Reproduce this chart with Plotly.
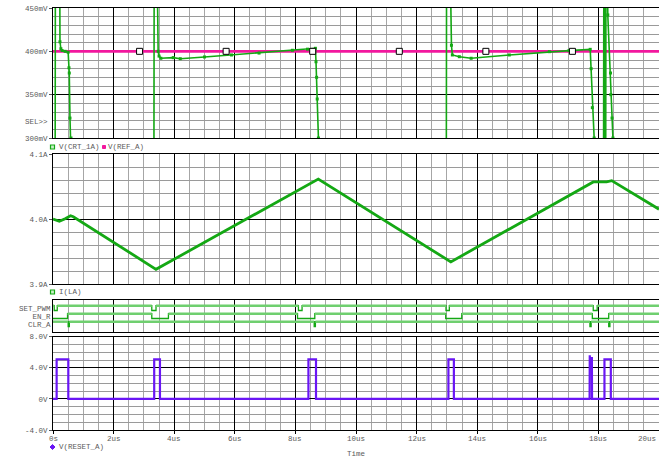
import plotly.graph_objects as go

# ---------------- data ----------------
# V(CRT_1A) [mV]  (values beyond the window are clipped)
crt_t = [0.00, 0.07, 0.08, 0.22, 0.23, 0.26, 0.30, 0.40, 0.50, 0.527, 0.537, 0.56, 0.593, 0.62,
         3.33, 3.34, 3.43, 3.47, 3.50, 3.56, 3.97, 4.20, 5.00, 5.89, 6.80, 7.90, 8.40, 8.66,
         8.68, 8.70, 8.72, 8.76, 8.80,
         12.98, 12.99, 13.10, 13.15, 13.18, 13.41, 13.80, 15.06, 16.38, 17.03, 17.73,
         17.76, 17.80, 17.86, 17.90,
         18.17, 18.18, 18.20, 18.21, 18.24, 18.25, 18.29, 18.31, 18.40, 18.41, 18.45, 18.48, 18.52, 20.0]
crt_v = [250, 250, 520, 520, 411, 403, 401, 400, 399, 381, 375, 323, 300, 250,
         250, 520, 520, 400, 394.5, 392, 392.7, 391.5, 393.5, 395.8, 398, 401.2, 402.5, 403.5,
         388, 370, 345, 300, 250,
         250, 520, 520, 407, 395.8, 393.8, 392, 395.8, 399.6, 400.8, 402.3,
         380, 335, 300, 250,
         250, 520, 520, 250, 250, 520, 520, 442, 375, 350, 323, 300, 250, 250]

# V(REF_A) [mV]
ref_t = [0.0, 20.0]
ref_v = [400, 400]
ref_mark_t = [2.857, 5.714, 8.571, 11.429, 14.286, 17.143]
ref_mark_v = [400, 400, 400, 400, 400, 400]

# I(LA) [A]
il_t = [0.00, 0.12, 0.21, 0.40, 0.58, 0.67, 3.40, 8.755, 13.13, 17.83, 18.27, 18.44, 20.0]
il_v = [4.000, 3.998, 3.9965, 4.0005, 4.005, 4.0035, 3.9226, 4.0615, 3.934, 4.057, 4.057, 4.059, 4.015]

# digital signals: intervals (start, end) in us where the signal is low
dig_names = ["SET_PWM", "EN_R", "CLR_A"]
set_pwm_low = [(0.04, 0.14), (3.26, 3.40), (8.10, 8.22), (12.97, 13.08), (17.83, 17.96)]
en_r_low = [(0.00, 0.48), (3.26, 3.81), (8.07, 8.64), (12.96, 13.49), (17.80, 18.34)]
clr_a_low = [(0.50, 0.54), (8.62, 8.66), (17.72, 17.76), (18.34, 18.38)]

# V(RESET_A) [V]
reset_t = [0.0, 0.12, 0.12, 0.505, 0.505, 3.34, 3.34, 3.53, 3.53, 8.43, 8.43, 8.68, 8.68,
           13.05, 13.05, 13.23, 13.23, 17.71, 17.715, 17.73, 17.75, 17.77, 17.785, 17.79,
           18.20, 18.20, 18.41, 18.41, 20.0]
reset_v = [0, 0, 5.1, 5.1, 0, 0, 5.1, 5.1, 0, 0, 5.1, 5.1, 0,
           0, 5.1, 5.1, 0, 0, 5.6, 4.6, 5.3, 4.8, 5.4, 0,
           0, 5.1, 5.1, 0, 0]

x_ticks = [0, 2, 4, 6, 8, 10, 12, 14, 16, 18, 20]
x_tick_text = ["0s", "2us", "4us", "6us", "8us", "10us", "12us", "14us", "16us", "18us", "20us"]

# ---------------- styling / layout helpers ----------------
W, H = 659, 459
L, T, B = 53, 8, 29
PW, PH = W - L, H - T - B
GREEN = "#14a814"
LGREEN = "#6fcf6f"
MAGENTA = "#f2189e"
PURPLE = "#6a16f5"
TXT = "#5a5a5a"
FONT = "Liberation Mono"


def xp(px):
    return (px - L) / PW


def yp(py):
    return (H - B - py) / PH


fig = go.Figure()

# panel 1
fig.add_trace(go.Scatter(x=ref_t, y=ref_v, mode="lines", line=dict(color=MAGENTA, width=2.6),
                         xaxis="x", yaxis="y", showlegend=False))
fig.add_trace(go.Scatter(x=crt_t, y=crt_v, mode="lines+markers", line=dict(color=GREEN, width=1.6),
                         marker=dict(symbol="square", size=3, color=GREEN),
                         xaxis="x", yaxis="y", showlegend=False))
fig.add_trace(go.Scatter(x=ref_mark_t, y=ref_mark_v, mode="markers",
                         marker=dict(symbol="square", size=6, color="white", line=dict(color="black", width=1)),
                         xaxis="x", yaxis="y", showlegend=False))

# panel 2
fig.add_trace(go.Scatter(x=il_t, y=il_v, mode="lines", line=dict(color=GREEN, width=2.8),
                         xaxis="x2", yaxis="y2", showlegend=False))

# panel 3 (digital)
lows_all = [set_pwm_low, en_r_low, clr_a_low]
row_hi = [3.29, 2.29, 1.29]
drop = 0.6
for lows, hi in zip(lows_all, row_hi):
    lo = hi - drop
    xs, ys = [0.0], [hi if lows[0][0] > 0 else lo]
    hx, hy = [], []
    prev = 0.0
    for a, b in lows:
        if a > prev:
            hx += [prev, a, None]
            hy += [hi, hi, None]
        if a > 0:
            xs += [a, a]
            ys += [hi, lo]
        xs += [b, b]
        ys += [lo, hi]
        prev = b
    xs.append(20.0)
    ys.append(hi)
    hx += [prev, 20.0]
    hy += [hi, hi]
    fig.add_trace(go.Scatter(x=xs, y=ys, mode="lines", line=dict(color=GREEN, width=1.3),
                             xaxis="x3", yaxis="y3", showlegend=False))
    fig.add_trace(go.Scatter(x=hx, y=hy, mode="lines", line=dict(color=LGREEN, width=2.4),
                             xaxis="x3", yaxis="y3", showlegend=False))

# panel 4
fig.add_trace(go.Scatter(x=reset_t, y=reset_v, mode="lines", line=dict(color=PURPLE, width=2.2),
                         xaxis="x4", yaxis="y4", showlegend=False))

tickfont = dict(family=FONT, size=7.5, color=TXT)
xcommon = dict(range=[0, 20], tickvals=x_ticks, showticklabels=False, showgrid=True,
               gridcolor="#000000", gridwidth=1, zeroline=False, showline=True, mirror=True,
               linecolor="#000000", linewidth=1,
               minor=dict(dtick=0.5, tick0=0, showgrid=True, gridcolor="#a6a6a6", gridwidth=1))
ycommon = dict(showgrid=True, gridcolor="#000000", gridwidth=1, zeroline=False, showline=True,
               mirror=True, linecolor="#000000", linewidth=1, ticks="outside", ticklen=3,
               tickcolor="#555", tickfont=tickfont)

fig.update_layout(
    width=W, height=H, margin=dict(l=L, r=0, t=T, b=B),
    paper_bgcolor="white", plot_bgcolor="white",
    xaxis=dict(**xcommon, anchor="y"),
    xaxis2=dict(**xcommon, anchor="y2", matches="x"),
    xaxis3=dict(**xcommon, anchor="y3", matches="x"),
    xaxis4=dict(**xcommon, anchor="y4", matches="x", ticks="outside", ticklen=3, tickcolor="#000"),
    yaxis=dict(**ycommon, domain=[yp(138), yp(T)], range=[300, 450],
               tickvals=[300, 350, 400, 450], ticktext=["300mV", "350mV", "400mV", "450mV"],
               minor=dict(tickvals=[v for v in range(310, 450, 10) if v % 50],
                          showgrid=True, gridcolor="#9a9a9a", gridwidth=1)),
    yaxis2=dict(**ycommon, domain=[yp(284), yp(154)], range=[3.9, 4.1],
                tickvals=[3.9, 4.0, 4.1], ticktext=["3.9A", "4.0A", "4.1A"],
                minor=dict(tickvals=[3.92, 3.94, 3.96, 3.98, 4.02, 4.04, 4.06, 4.08],
                           showgrid=True, gridcolor="#9a9a9a", gridwidth=1)),
    yaxis3=dict(domain=[yp(332), yp(300)], range=[0, 4], showgrid=False, zeroline=False,
                showline=True, mirror=True, linecolor="#000", linewidth=1, ticks="",
                tickvals=[h - drop / 2 for h in row_hi], ticktext=dig_names, tickfont=tickfont),
    yaxis4=dict(**ycommon, domain=[yp(430), yp(336.7)], range=[-4, 8],
                tickvals=[-4, 0, 4, 8], ticktext=["-4.0V", "0V", "4.0V", "8.0V"],
                minor=dict(dtick=1, tick0=0, showgrid=True, gridcolor="#9a9a9a", gridwidth=1)),
)

anns = []


def ann(px, py, text, xanchor="left", size=7.5, color=TXT):
    anns.append(dict(x=xp(px), y=yp(py), xref="paper", yref="paper", text=text, showarrow=False,
                     xanchor=xanchor, yanchor="middle", font=dict(family=FONT, size=size, color=color)))


for tv, tt in zip(x_ticks, x_tick_text):
    px = L + tv / 20 * PW
    if tv == 20:
        ann(658, 439, tt, xanchor="right")
    else:
        ann(px, 439, tt, xanchor="center")
ann(356, 454, "Time", xanchor="center")
ann(50, 122, "SEL>>", xanchor="right")
ann(57, 147, "V(CRT_1A)")
ann(106, 147, "V(REF_A)")
ann(57, 292, "I(LA)")
ann(57, 447, "V(RESET_A)")

shapes = [
    dict(type="rect", xref="paper", yref="paper", x0=xp(50.5), x1=xp(54.5), y0=yp(149), y1=yp(145),
         line=dict(color=GREEN, width=1.2), fillcolor="#c8f0c8"),
    dict(type="rect", xref="paper", yref="paper", x0=xp(102.5), x1=xp(105.5), y0=yp(148.5), y1=yp(145.5),
         line=dict(color=MAGENTA, width=1), fillcolor=MAGENTA),
    dict(type="rect", xref="paper", yref="paper", x0=xp(50.5), x1=xp(54.5), y0=yp(294), y1=yp(290),
         line=dict(color=GREEN, width=1.2), fillcolor="#c8f0c8"),
    dict(type="path", xref="paper", yref="paper",
         path=f"M {xp(52.5)} {yp(444.5)} L {xp(55)} {yp(447)} L {xp(52.5)} {yp(449.5)} L {xp(50)} {yp(447)} Z",
         line=dict(color=PURPLE, width=1), fillcolor=PURPLE),
]

fig.update_layout(annotations=anns, shapes=shapes)
fig.write_html("out.html")
